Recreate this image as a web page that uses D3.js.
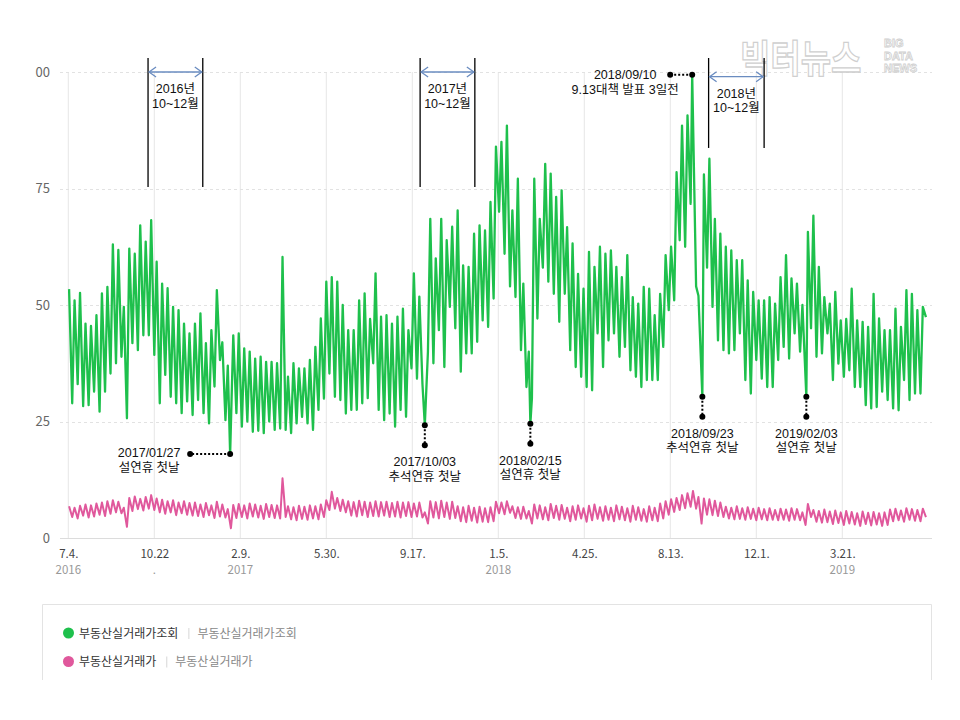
<!DOCTYPE html>
<html><head><meta charset="utf-8">
<script src="https://cdn.jsdelivr.net/npm/d3@7"></script>
<style>body{margin:0;background:#fff}svg{display:block}</style>
</head><body><svg id="c" width="960" height="720"></svg>
<script>
// ---------------- data ----------------
const startDate = "2016-07-04";              // first Monday of the series (weekly blocks)
const seriesNames = ["부동산실거래가조회", "부동산실거래가"];

const tickDates  = ["2016-07-04","2016-10-22","2017-02-09","2017-05-30","2017-09-17","2018-01-05","2018-04-25","2018-08-13","2018-12-01","2019-03-21"];
const tickLabels = ["7.4.","10.22","2.9.","5.30.","9.17.","1.5.","4.25.","8.13.","12.1.","3.21."];
const yearLabels = ["2016",".","2017","","","2018","","","","2019"];
const yTicks = [0,25,50,75,100];

// 부동산실거래가조회 : weekly weekday peak / weekend trough
const viewsHigh = [
53.4,51,52.6,46,45.5,47.8,52.5,53.9,63,61.8,
49.6,62.1,61,67.1,63.6,68.2,59.3,54.6,53.6,49.6,
48.9,46,43.9,46,48.2,41.8,44.6,53.2,42,37,
43.5,43.9,40.7,40,38.5,38.9,37.8,37.8,37.5,60.3,
34.6,37.5,36.4,36.4,38.2,41,47.1,55,56,55,
50,44.6,44.6,51,52.5,47,56.8,47.5,47.8,46,
47.5,49.2,44.6,56.8,51.8,24.2,68.5,60,68.5,63.9,
66.8,70.3,58.5,58.2,65.3,67.1,66,72.1,84,85,
88.5,70.3,77.1,54.6,40,77.1,68.5,80.3,78.2,73.2,
74.6,66.7,63.2,56.7,53.5,61.4,58.2,62.5,61,61.7,
58.2,56,60.7,51.7,50.3,53.9,53.5,47.8,52.4,60.7,
62.5,78.5,88.5,90.7,99.4,52,78,81.4,68.5,65.3,
62.5,61.7,59.6,59.6,55.3,52.8,51,51,51.7,50.3,
56,60.7,55.7,54.6,50,65.7,69.2,58.2,51.7,50.3,
52.8,46.7,47,53.5,46.7,46.4,45.3,52.4,47.1,44.6,
44.6,49.2,45.3,53.2,52.4,48.9,49.6];
const viewsLow = [
28.9,33,28.3,28.5,31.4,27.1,31.4,35.3,37.5,38.9,
25.7,41.8,40.3,43.5,43.5,39.3,28.9,35,30.3,28.9,
26.8,29.3,26.4,29.6,26.8,24.6,32.5,38.2,25.3,18,
26.8,23.9,25,22.8,23,22.5,25,23.2,23.5,23.2,
22.5,24.6,26,24.6,23.2,27.5,29.9,35.3,30.3,29.6,
26.7,27.5,27.5,28.9,30,37.5,27.5,25.3,26.7,23.9,
27.5,26,36.4,34.2,33,40,37.5,44.6,36.7,49.6,
45,35.7,39.6,39.6,42.1,46.7,45.3,51.4,70,61,
54,51.7,40.3,32.4,30,47.1,58,55,52.4,46.4,
52.4,40.3,36.7,34.6,32.4,31.7,43.9,36.7,42.4,43.9,
38.9,41,36,34.6,32.4,33.9,33.9,33.9,41,48.9,
51,63.9,62.5,71.7,54,30.3,58,49.6,42.4,40.3,
39.6,40.3,43.9,33.9,31,38.2,34.2,32.4,32.4,38.2,
41,38.5,43.9,40,30.3,45,38.9,39.6,43.9,33.9,
37.4,34.6,36,32.4,32.4,28.5,27.8,28.1,31.4,29.6,
27.8,27.4,33.9,29.6,31,31,47.4];

// 부동산실거래가 : weekly peak / trough
const priceHigh = [
6.8,6.5,6.9,7.2,7.0,7.4,7.6,7.9,8.1,7.8,
6.5,8.6,8.9,8.4,8.8,9.2,8.5,8.2,7.9,8.1,
7.6,7.9,7.5,7.6,7.2,7.5,7.0,7.8,7.2,6.2,
7.1,7.3,7.0,7.4,7.2,6.9,7.3,7.1,7.0,12.8,
6.8,6.6,6.9,6.7,7.0,6.8,7.2,8.1,9.9,8.6,
8.2,7.9,7.7,8.0,7.8,7.6,7.9,7.7,7.8,7.5,
7.8,7.6,7.7,7.4,7.6,5.5,7.9,7.7,8.0,7.6,
7.8,6.8,6.6,6.9,6.5,6.7,6.4,6.6,7.8,7.6,
7.9,6.8,6.6,6.7,5.8,7.2,7.0,6.6,7.3,6.9,
7.1,6.5,6.8,7.0,6.4,6.9,7.2,6.6,6.8,6.5,
7.0,6.7,6.4,6.9,6.6,6.2,6.8,6.5,7.4,7.9,
8.3,8.6,9.2,9.6,10.1,8.8,8.5,8.3,8.0,7.6,
6.7,6.5,6.8,6.4,6.6,6.3,6.5,6.2,6.4,6.0,
6.3,6.1,6.4,6.2,5.5,7.3,6.0,5.8,6.1,5.7,
5.9,5.5,5.8,5.6,5.3,5.7,5.4,5.6,5.3,5.5,
6.1,6.3,5.9,6.4,6.2,6.0,6.3];
const priceLow = [
4.5,4.2,4.8,4.4,4.6,5.0,4.7,5.2,5.5,5.3,
2.4,5.8,6.2,5.9,6.3,6.0,5.5,5.2,5.5,4.9,
5.3,5.0,4.8,4.7,4.5,4.9,4.3,4.6,4.4,2.1,
4.3,4.5,4.2,4.6,4.4,4.1,4.5,4.3,4.2,4.5,
4.0,3.8,4.1,3.9,4.2,4.0,4.5,6.0,6.3,5.8,
5.5,4.8,4.6,4.9,4.5,4.7,4.6,4.8,4.5,4.6,
4.4,4.7,4.5,4.6,4.4,3.1,4.4,4.2,4.5,4.1,
4.3,3.6,3.4,3.7,3.3,3.5,3.4,3.6,5.3,5.1,
5.4,4.3,4.1,4.2,3.1,4.2,4.0,3.8,4.3,3.9,
4.1,3.6,3.9,4.2,3.5,3.8,4.1,3.7,3.9,3.6,
4.0,3.8,3.5,3.9,3.7,3.5,3.8,3.6,4.2,5.0,
5.6,6.0,6.4,6.7,6.3,3.1,5.0,4.9,4.7,4.5,
4.2,4.0,4.1,3.9,4.1,3.8,4.0,3.8,3.9,3.8,
3.9,3.7,3.9,3.8,2.8,4.5,3.5,3.3,3.4,3.0,
3.2,2.8,3.1,2.9,2.6,3.0,2.7,2.9,2.6,2.8,
3.6,3.8,3.5,3.9,3.7,3.6,4.5];

// annotated days of 부동산실거래가조회
const eventDates  = ["2017-01-27","2017-10-03","2018-02-15","2018-09-10","2018-09-23","2019-02-03"];
const eventValues = [18.0, 24.2, 24.5, 99.4, 30.3, 30.3];
const eventLabels = [["2017/01/27","설연휴 첫날"],["2017/10/03","추석연휴 첫날"],["2018/02/15","설연휴 첫날"],
                     ["2018/09/10","9.13대책 발표 3일전"],["2018/09/23","추석연휴 첫날"],["2019/02/03","설연휴 첫날"]];

// Q4 brackets
const spanFrom   = ["2016-10-14","2017-09-27","2018-10-01"];
const spanTo     = ["2016-12-23","2017-12-06","2018-12-11"];
const spanTop    = [103, 103, 103];
const spanBottom = [75.3, 75.3, 83.7];
const spanArrow  = [100, 100, 99];
const spanLabels = [["2016년","10~12월"],["2017년","10~12월"],["2018년","10~12월"]];

// ---------------- chart ----------------
const FONT = "'Noto Sans CJK KR','Noto Sans',sans-serif";
const AFONT = "'Liberation Sans','Noto Sans CJK KR',sans-serif";
const parse = d3.utcParse("%Y-%m-%d");
const t0 = parse(startDate);
const svg = d3.select("#c").attr("font-family", FONT);
svg.append("rect").attr("width",960).attr("height",720).attr("fill","#fff");

const x = d3.scaleUtc().domain([parse("2016-07-04"), parse("2019-03-21")]).range([68.3, 842.3]);
const y = d3.scaleLinear().domain([0,100]).range([538, 72]);

const events = eventDates.map((d,i)=>({date:parse(d), value:eventValues[i], label:eventLabels[i]}));

function weekly(hi, lo, ev){
  let pts = [];
  hi.forEach((h,w)=>{
    pts.push({date:d3.utcDay.offset(t0, 7*w+1), value:h});
    pts.push({date:d3.utcDay.offset(t0, 7*w+5), value:lo[w]});
  });
  if (ev) {
    pts = pts.filter(p => !ev.some(e => Math.abs(p.date - e.date) <= 864e5*1.01));
    pts = pts.concat(ev.map(e=>({date:e.date, value:e.value})));
    pts.sort((a,b)=>a.date-b.date);
  }
  return pts;
}
const viewsPts = weekly(viewsHigh, viewsLow, events);
const pricePts = weekly(priceHigh, priceLow, null);

// multi-line text helper
function multiText(g, lines, cx, y0, lh, size){
  lines.forEach((s,j)=>g.append("text").attr("x",cx).attr("y",y0+j*lh).attr("text-anchor","middle")
    .attr("font-size",size).attr("fill","#111").attr("font-family",AFONT).text(s));
}

// grid
const grid = svg.append("g");
grid.selectAll("line.v").data(tickDates).join("line")
  .attr("x1", d=>x(parse(d))).attr("x2", d=>x(parse(d)))
  .attr("y1", y(100)).attr("y2", y(0))
  .attr("stroke","#e6e6e6").attr("stroke-width",1);
grid.selectAll("line.h").data(yTicks).join("line")
  .attr("x1",60).attr("x2",932).attr("y1",d=>Math.round(y(d))+0.5).attr("y2",d=>Math.round(y(d))+0.5)
  .attr("stroke", d=> d===0 ? "#dcdcdc" : "#e2e2e2")
  .attr("stroke-dasharray", d=> d===0 ? null : "3,3");

// watermark
const wm = svg.append("g").attr("fill","#fff").attr("stroke","#cfcfcf").attr("stroke-width",1.1);
wm.append("text").attr("transform","translate(740,72) scale(1,1.15)").attr("font-size",33).attr("font-weight",700)
  .text("빅터뉴스");
["BIG","DATA","NEWS"].forEach((t,i)=>{
  wm.append("text").attr("x",884).attr("y",47+i*12.6).attr("font-size",11).attr("font-weight",700)
    .attr("stroke-width",0.8).attr("font-family","'Liberation Sans Narrow','Liberation Sans',sans-serif").text(t);
});

// lines
const line = d3.line().x(d=>x(d.date)).y(d=>y(d.value));
svg.append("path").datum(pricePts).attr("d",line).attr("fill","none")
  .attr("stroke","#e0589c").attr("stroke-width",2).attr("stroke-linejoin","round");
svg.append("path").datum(viewsPts).attr("d",line).attr("fill","none")
  .attr("stroke","#1ec04c").attr("stroke-width",2.3).attr("stroke-linejoin","round");

// Q4 brackets
const ann = svg.append("g");
spanFrom.forEach((f,i)=>{
  const x1 = x(parse(f)), x2 = x(parse(spanTo[i]));
  [x1,x2].forEach(xx=>{
    ann.append("line").attr("x1",xx).attr("x2",xx).attr("y1",y(spanTop[i])).attr("y2",y(spanBottom[i]))
      .attr("stroke","#000").attr("stroke-width",1.3);
  });
  const ay = y(spanArrow[i]);
  const g = ann.append("g").attr("stroke","#6a8cc0").attr("stroke-width",1.3).attr("fill","none");
  g.append("line").attr("x1",x1+1).attr("x2",x2-1).attr("y1",ay).attr("y2",ay);
  g.append("path").attr("d",`M${x1+8},${ay-5}L${x1+1},${ay}L${x1+8},${ay+5}`);
  g.append("path").attr("d",`M${x2-8},${ay-5}L${x2-1},${ay}L${x2-8},${ay+5}`);
  multiText(ann, spanLabels[i], (x1+x2)/2, ay+21, 14.5, 12.5);
});

// event callouts
const leftLead = {0:40, 3:22};
events.forEach((e,i)=>{
  const px = x(e.date), py = y(e.value);
  let qx = px, qy = py, tx, ty0;
  if (leftLead[i] !== undefined) {
    qx = px - leftLead[i];
    tx = qx - (i===0 ? 41 : 45);
    ty0 = py + (i===0 ? 3 : 4.5);
  } else {
    qy = py + 20;
    tx = px; ty0 = qy + 21;
  }
  ann.append("line").attr("x1",px).attr("y1",py).attr("x2",qx).attr("y2",qy)
    .attr("stroke","#000").attr("stroke-width",2).attr("stroke-dasharray","2,2");
  [[px,py],[qx,qy]].forEach(p=>ann.append("circle").attr("cx",p[0]).attr("cy",p[1]).attr("r",3).attr("fill","#000"));
  multiText(ann, e.label, tx, ty0, 14.5, 12.5);
});

// axes
const xa = svg.append("g").attr("transform","translate(0,538)")
  .call(d3.axisBottom(x).tickValues(tickDates.map(parse)).tickSize(0).tickPadding(12)
        .tickFormat((d,i)=>tickLabels[i]));
xa.select(".domain").remove();
xa.selectAll("text").attr("font-size",11.5).attr("fill","#444").attr("font-family",FONT);
svg.append("g").selectAll("text").data(tickDates).join("text")
  .attr("x",d=>x(parse(d))).attr("y",574).attr("text-anchor","middle")
  .attr("font-size",11.5).attr("fill","#999").text((d,i)=>yearLabels[i]);

svg.append("clipPath").attr("id","yclip").append("rect").attr("x",35-60).attr("y",40).attr("width",40).attr("height",520);
const ya = svg.append("g").attr("transform","translate(60,0)").attr("clip-path","url(#yclip)");
ya.call(d3.axisLeft(y).tickValues(yTicks).tickSize(0).tickPadding(10));
ya.select(".domain").remove();
ya.selectAll("text").attr("font-size",13).attr("fill","#666").attr("font-family",FONT);

// legend
const lg = svg.append("g");
lg.append("path").attr("d","M42.5,680V604.5H931.5V680").attr("fill","none").attr("stroke","#e3e3e3");
const colors = ["#1ec04c","#e0589c"];
seriesNames.forEach((n,i)=>{
  const cy = 633 + i*28.5;
  lg.append("circle").attr("cx",68.5).attr("cy",cy).attr("r",5.5).attr("fill",colors[i]);
  const t1 = lg.append("text").attr("x",79).attr("y",cy+4.5).attr("font-size",12).attr("fill","#333").text(n);
  const w = t1.node().getComputedTextLength();
  lg.append("line").attr("x1",79+w+10.5).attr("x2",79+w+10.5).attr("y1",cy-5).attr("y2",cy+6).attr("stroke","#d6d6d6");
  lg.append("text").attr("x",79+w+19).attr("y",cy+4.5).attr("font-size",12).attr("fill","#888").text(n);
});
</script></body></html>
